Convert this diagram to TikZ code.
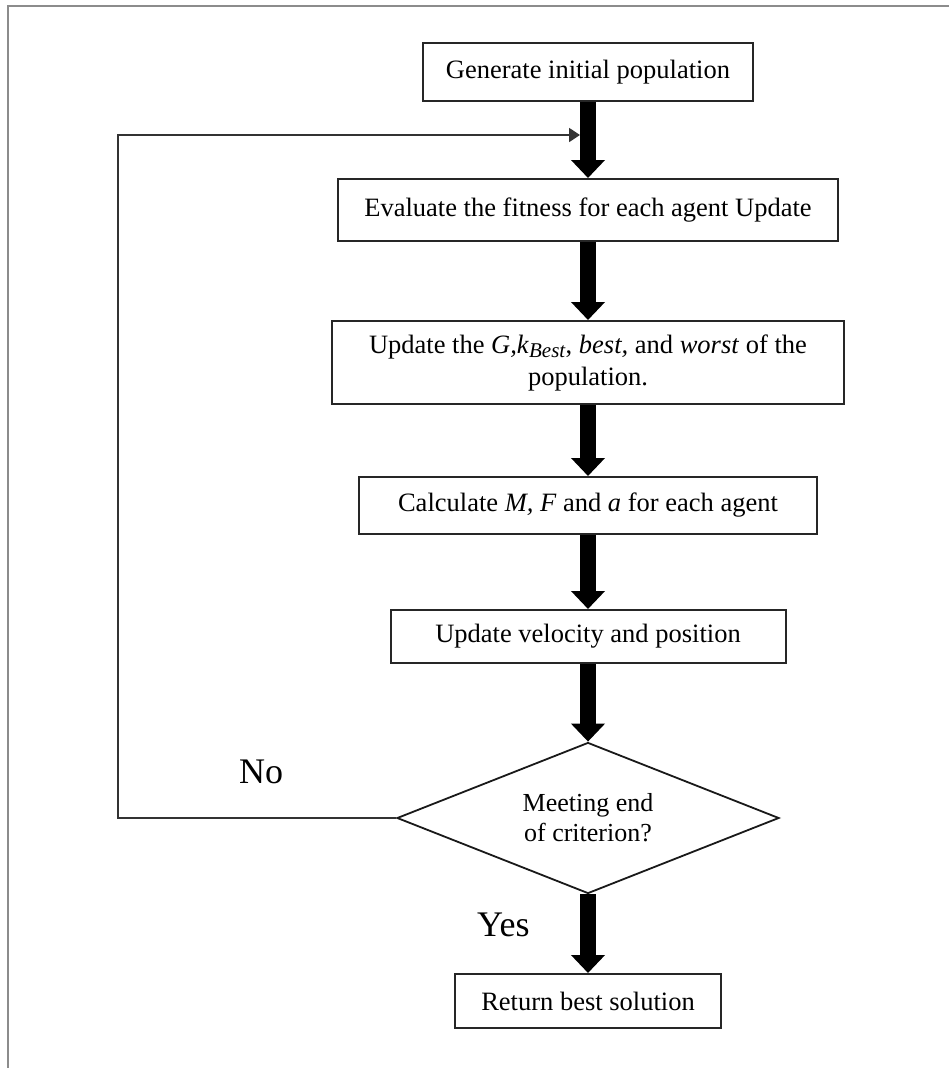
\documentclass[tikz,border=0pt]{standalone}
\usepackage{fontspec}
\setmainfont{Liberation Serif}
\usetikzlibrary{shapes.geometric,arrows.meta}
\begin{document}
\begin{tikzpicture}[x=1pt,y=-1pt,
  box/.style={draw=black!85, line width=2pt, fill=white, inner sep=0pt, align=center,
    font=\fontsize{26.5}{32}\selectfont},
  decision/.style={diamond, draw=black!90, line width=1.8pt, fill=white, inner sep=0pt,
    align=center, aspect=2.53, font=\fontsize{26}{30}\selectfont},
  bigarrow/.style={line width=16pt, black, -{Triangle[length=18pt 0 0,width=33pt 0 0]}},
  loopline/.style={line width=1.8pt, black!80, -{Triangle[length=11pt 0 0,width=14pt 0 0]}},
  answer/.style={font=\fontsize{36}{36}\selectfont, anchor=base west, inner sep=0pt},
  frameline/.style={line width=1.6pt, black!45}
]
\useasboundingbox (0,0) rectangle (949,1068);
% frame
\coordinate (frTR) at (949,6);
\coordinate (frTL) at (8,6);
\coordinate (frBL) at (8,1068);
\draw[frameline] (frTR) -- (frTL) -- (frBL);

% nodes
\node[box, minimum width=330, minimum height=58] (gen) at (588,72) {Generate initial population};
\node[box, minimum width=500, minimum height=62] (eval) at (588,210) {Evaluate the fitness for each agent Update};
\node[box, minimum width=512, minimum height=83] (upd) at (588,362.5)
  {Update the \textit{G,k}\raisebox{-0.35ex}{\fontsize{21}{21}\selectfont\textit{Best}}, \textit{best,} and \textit{worst} of the\\population.};
\node[box, minimum width=458, minimum height=57] (calc) at (588,505.5)
  {Calculate \textit{M, F} and \textit{a} for each agent};
\node[box, minimum width=395, minimum height=53] (vel) at (588,636.5) {Update velocity and position};
\node[decision, minimum width=382, minimum height=151] (dec) at (588,818) {Meeting end\\of criterion?};
\node[box, minimum width=266, minimum height=54] (ret) at (588,1001) {Return best solution};

\node[answer] (no) at (239,783) {No};
\node[answer] (yes) at (477,936) {Yes};

% connectors
\draw[bigarrow] (gen.south) -- (eval.north);
\draw[bigarrow] (eval.south) -- (upd.north);
\draw[bigarrow] (upd.south) -- (calc.north);
\draw[bigarrow] (calc.south) -- (vel.north);
\draw[bigarrow] (vel.south) -- (dec.north);
\draw[bigarrow] (dec.south) -- (ret.north);

\coordinate (loopcorner) at (118,135);
\coordinate (join) at (580,135);
\draw[loopline] (dec.west) -| (loopcorner) -- (join);
\end{tikzpicture}
\end{document}
